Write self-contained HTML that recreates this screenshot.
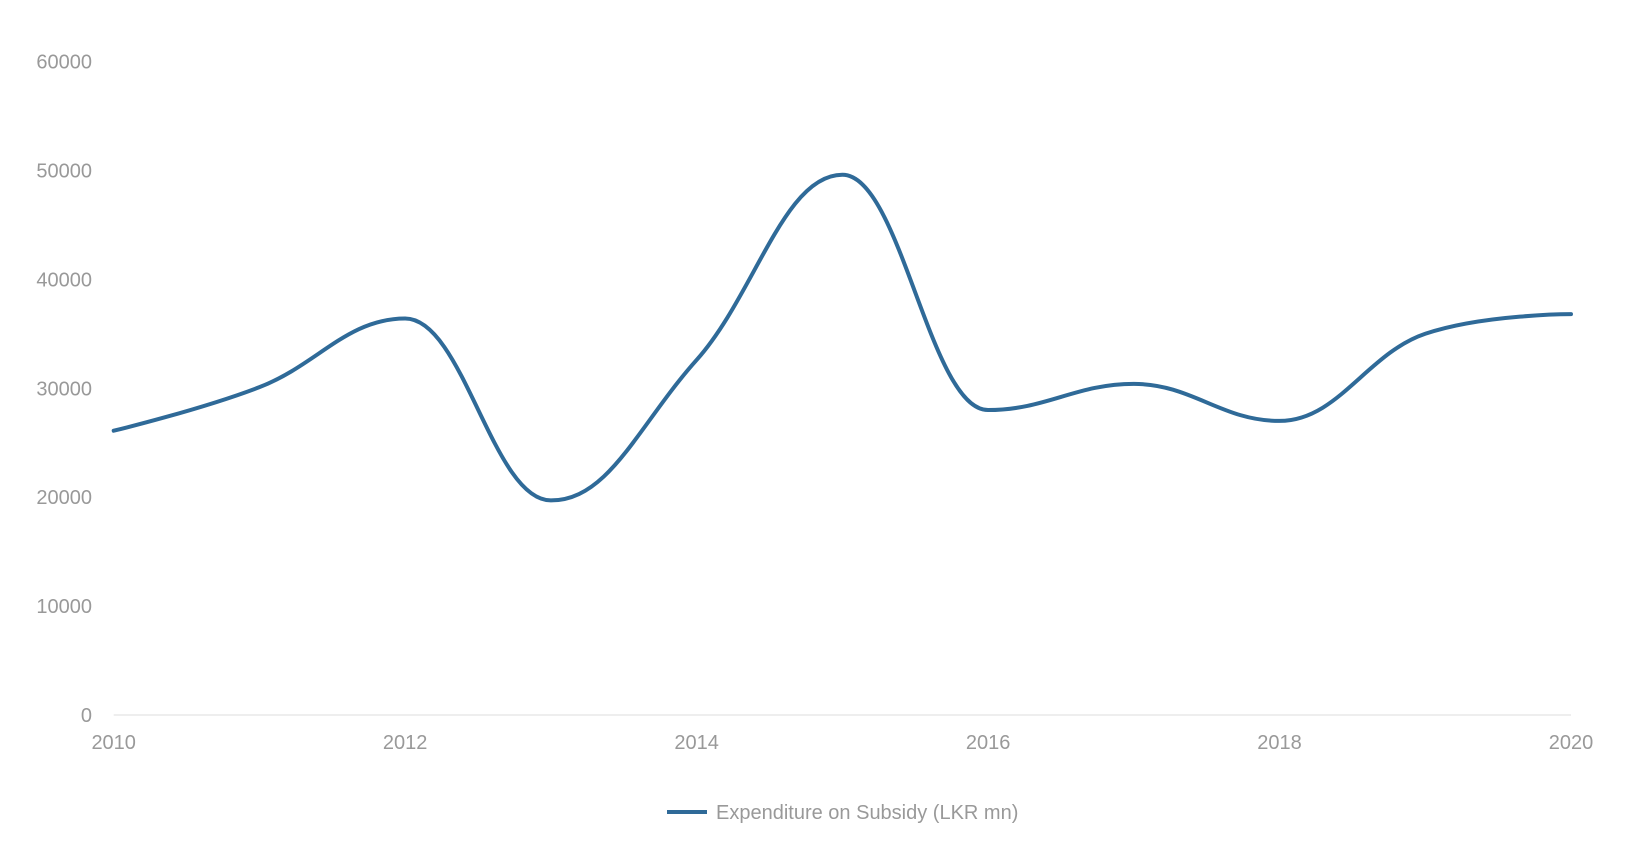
<!DOCTYPE html>
<html><head><meta charset="utf-8"><style>
html,body{margin:0;padding:0;background:#fff;}
svg{display:block;font-family:"Liberation Sans",Arial,sans-serif;}
</style></head><body>
<svg id="chart" width="1627" height="862"></svg>
<script>
const categories=[2010,2011,2012,2013,2014,2015,2016,2017,2018,2019,2020];
const seriesValues=[26100,30100,36400,19700,32600,49600,28000,30400,27000,35000,36800];
const yTicks=[0,10000,20000,30000,40000,50000,60000];
const xTickLabels=[2010,2012,2014,2016,2018,2020];
const seriesName="Expenditure on Subsidy (LKR mn)";

const NS="http://www.w3.org/2000/svg";
const svg=document.getElementById('chart');
const X0=113.7,X1=1571,Y0=715,Y1=61.5;
const xs=v=>X0+(v-2010)/(2020-2010)*(X1-X0);
const ys=v=>Y0-(v/60000)*(Y0-Y1);
function mk(t,a){const e=document.createElementNS(NS,t);for(const k in a)e.setAttribute(k,a[k]);svg.appendChild(e);return e;}

yTicks.forEach(t=>{
  const tx=mk('text',{x:92,y:ys(t)+7,'text-anchor':'end','font-size':20,fill:'#999'});
  tx.textContent=t;
  
  
});
const ax=mk('line',{x1:X0,x2:X1,y1:Y0,y2:Y0,stroke:'#eeeeee','stroke-width':2});


xTickLabels.forEach(t=>{
  const tx=mk('text',{x:xs(t),y:749,'text-anchor':'middle','font-size':20,fill:'#999'});
  tx.textContent=t;
  
  
});

// Highcharts-style spline
const pts=categories.map((c,i)=>({x:xs(c),y:ys(seriesValues[i])}));
const sm=1.5,den=2.5;
pts.forEach((p,i)=>{
  const pr=pts[i-1],nx=pts[i+1];
  if(pr&&nx){
    let lx=(sm*p.x+pr.x)/den,ly=(sm*p.y+pr.y)/den,rx=(sm*p.x+nx.x)/den,ry=(sm*p.y+nx.y)/den;
    if(rx!==lx){const c=((ry-ly)*(rx-p.x))/(rx-lx)+p.y-ry;ly+=c;ry+=c;}
    if(ly>pr.y&&ly>p.y){ly=Math.max(pr.y,p.y);ry=2*p.y-ly;}
    else if(ly<pr.y&&ly<p.y){ly=Math.min(pr.y,p.y);ry=2*p.y-ly;}
    if(ry>nx.y&&ry>p.y){ry=Math.max(nx.y,p.y);ly=2*p.y-ry;}
    else if(ry<nx.y&&ry<p.y){ry=Math.min(nx.y,p.y);ly=2*p.y-ry;}
    p.lx=lx;p.ly=ly;p.rx=rx;p.ry=ry;
  }
});
let d=`M${pts[0].x},${pts[0].y}`;
for(let i=1;i<pts.length;i++){
  const a=pts[i-1],b=pts[i];
  d+=` C${a.rx??a.x},${a.ry??a.y} ${b.lx??b.x},${b.ly??b.y} ${b.x},${b.y}`;
}
const line=mk('path',{d:d,fill:'none',stroke:'#2f6a98','stroke-width':4,'stroke-linejoin':'round','stroke-linecap':'round'});



const lg=mk('line',{x1:667,x2:707,y1:812,y2:812,stroke:'#2f6a98','stroke-width':4});


const lt=mk('text',{x:716,y:819,'font-size':20,fill:'#999'});
lt.textContent=seriesName;


</script>
</body></html>
